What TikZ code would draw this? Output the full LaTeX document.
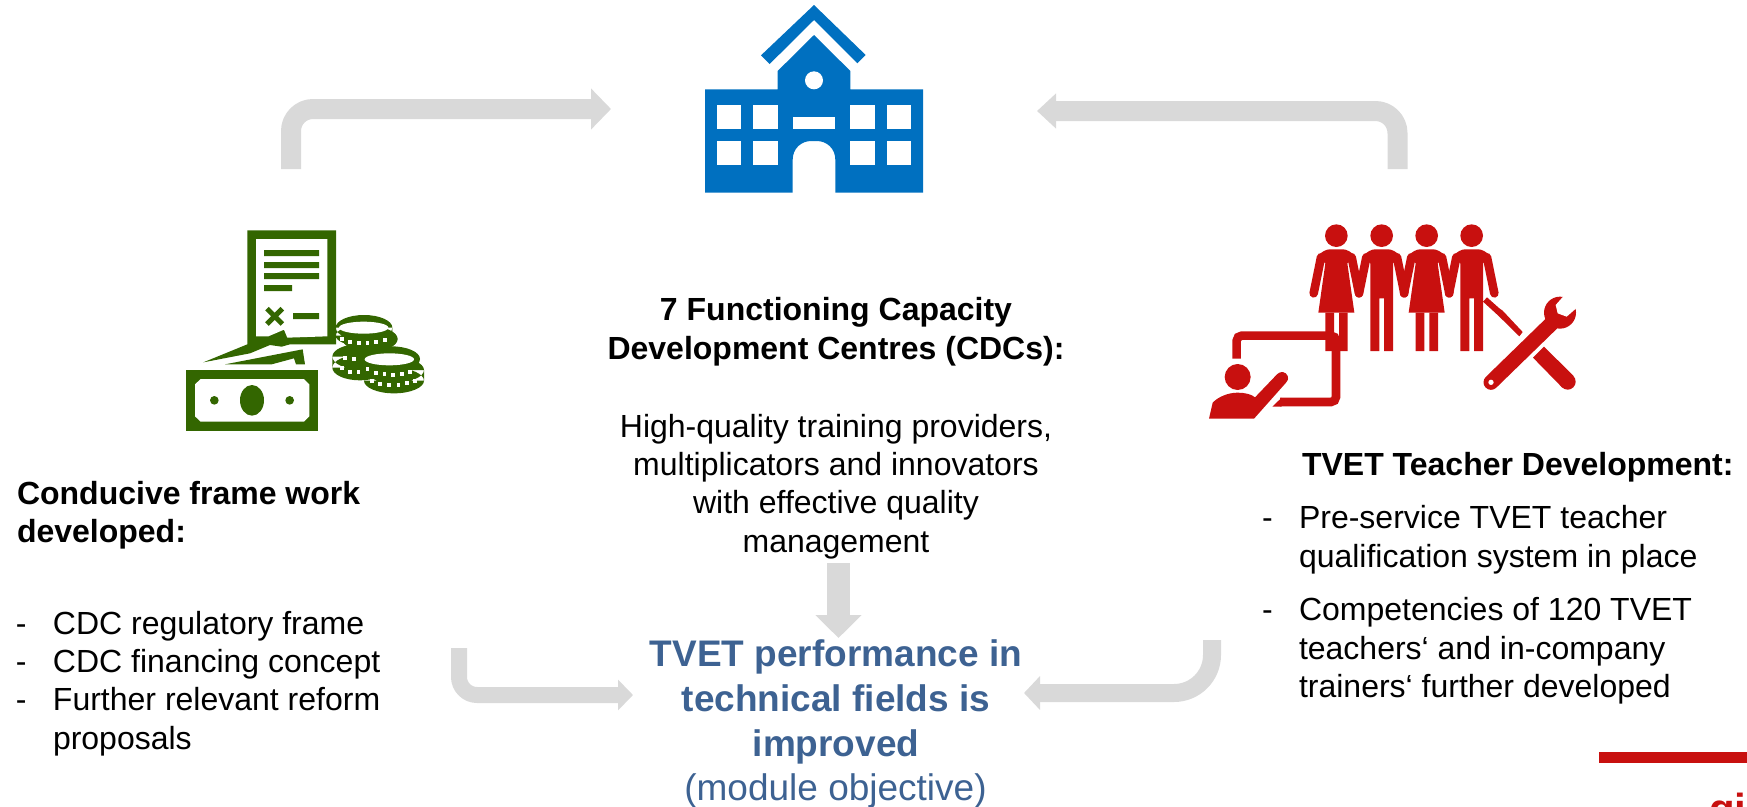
\documentclass[tikz,border=0pt]{standalone}
\usepackage{fontspec}
\setmainfont{Liberation Sans}
\usetikzlibrary{arrows.meta}
\definecolor{barGray}{HTML}{D9D9D9}
\definecolor{schoolBlue}{HTML}{0070C0}
\definecolor{moneyGreen}{HTML}{336600}
\definecolor{teachRed}{HTML}{C8100F}
\definecolor{goalBlue}{HTML}{3D6292}
\tikzset{
  flow/.style={draw=barGray,line width=#1,line cap=butt,line join=round},
  body/.style={inner sep=0pt,outer sep=0pt,font=\fontsize{32}{38.4}\selectfont,black},
  goal/.style={inner sep=0pt,outer sep=0pt,font=\fontsize{37}{45}\selectfont,goalBlue,align=center},
  icon/.style={x=0.33333pt,y=-0.33333pt}
}
\newcommand{\li}{\makebox[37pt][l]{-}}
\newcommand{\lc}{\hspace*{37pt}}
\begin{document}
\begin{tikzpicture}[x=1pt,y=-1pt]
\useasboundingbox (0,0) rectangle (1747,806);
% ---- school
\begin{scope}[shift={(680,0)},icon]
  \fill[schoolBlue] (402,15)--(557,165)--(532,190)--(402,60)--(269,192)--(243,166)--cycle;
  \fill[schoolBlue] (75,268)--(293,268)--(293,213)--(402,105)--(511,213)--(511,268)--(729,268)--(729,578)--(466,578)--(466,480)
    .. controls (466,445) and (440,423) .. (410,423) -- (394,423) .. controls (364,423) and (338,445) .. (338,480)--(338,578)--(75,578)--cycle;
  \foreach \wx in {111,220,511,620}{
    \fill[white] (\wx,314) rectangle (\wx+73,387);
    \fill[white] (\wx,423) rectangle (\wx+73,496);
  }
  \fill[white] (338,350) rectangle (466,387);
  \fill[white] (402,241) circle [radius=27];
\end{scope}
% ---- money
\begin{scope}[shift={(170,215)},icon]
  \fill[moneyGreen] (232,46)--(498,46)--(498,388)--(360,388)--(335,395)--(300,390)--(240,415)--(100,442)--(232,388)--cycle;
  \fill[white] (258,72)--(472,72)--(472,364)--(352,368)--(342,344)--(295,364)--(258,364)--cycle;
  \fill[moneyGreen] (282,105) rectangle (447,123) (282,141) rectangle (447,159) (282,174) rectangle (447,192) (282,210) rectangle (366,228) (369,294) rectangle (447,312);
  \draw[moneyGreen,line width=5pt] (291,281)--(337,327) (337,281)--(291,327);
  \fill[moneyGreen] (165,448)--(398,403)--(405,448)--(378,448)--(372,430)--(305,448)--cycle;
  \fill[moneyGreen] (47,466) rectangle (445,648);
  \fill[white] (75,508)--(92,492)--(402,492)--(418,508)--(418,604)--(402,620)--(92,620)--(75,604)--cycle;
  \fill[moneyGreen] (246,556) ellipse [x radius=36,y radius=46];
  \fill[moneyGreen] (133,556) circle [radius=13] (359,556) circle [radius=13];
  % left stack
  \fill[moneyGreen] (570,425) ellipse [x radius=83,y radius=38] (570,458) ellipse [x radius=83,y radius=38] (487,425) rectangle (653,458);
  \fill[moneyGreen] (600,372) ellipse [x radius=83,y radius=38];
  \fill[moneyGreen] (582,338) ellipse [x radius=85,y radius=38] (582,362) ellipse [x radius=85,y radius=32] (497,338) rectangle (667,362);
  \fill[white] (581,338) ellipse [x radius=74,y radius=18];
  \foreach \dx/\dy in {515/372,540/381,566/384,592/384,618/382,645/375,525/428,552/432,515/460,540/470,565/470}
    \fill[white] (\dx-5.5,\dy-6) rectangle (\dx+5.5,\dy+6);
  % right stack
  \fill[moneyGreen] (672,497) ellipse [x radius=90,y radius=38] (672,465) ellipse [x radius=90,y radius=38] (582,465) rectangle (762,497) (664,432) ellipse [x radius=86,y radius=38];
  \fill[white] (658,433) ellipse [x radius=74,y radius=18];
  \foreach \dx/\dy in {592/462,617/473,643/478,668/480,695/478,720/470,605/498,630/508,657/510,685/510,710/505,735/497}
    \fill[white] (\dx-5.5,\dy-6) rectangle (\dx+5.5,\dy+6);
\end{scope}
% ---- people, board and tools
\begin{scope}[shift={(1190,210)},icon]
  \foreach \c in {439,575,710,845}{
    \fill[teachRed] (\c,77) circle [radius=34];
    \draw[teachRed,line width=8.6pt,line cap=round] (\c-46,142)--(\c-68,250) (\c+46,142)--(\c+68,250);
  }
  \foreach \c in {439,710}{
    \fill[teachRed] (\c-54,308)--(\c-33,160)--(\c-58,140) .. controls (\c-45,125) and (\c-30,118) .. (\c-20,118)--(\c+20,118) .. controls (\c+30,118) and (\c+45,125) .. (\c+58,140)--(\c+33,160)--(\c+54,308)--cycle;
    \fill[teachRed] (\c-33,308) rectangle (\c-7,423) (\c+8,308) rectangle (\c+34,423);
  }
  \foreach \c in {575,845}{
    \fill[teachRed] (\c-34,423)--(\c-34,160)--(\c-58,140) .. controls (\c-45,125) and (\c-30,118) .. (\c-20,118)--(\c+20,118) .. controls (\c+30,118) and (\c+45,125) .. (\c+58,140)--(\c+34,160)--(\c+34,423)--(\c+7,423)--(\c+7,265)--(\c-7,265)--(\c-7,423)--cycle;
  }
  \draw[teachRed,line width=8.6pt,rounded corners=5pt] (140,446)--(140,377)--(438,377)--(438,576)--(270,576);
  \fill[teachRed] (275,563)--(247,590)--(275,590)--cycle;
  \fill[teachRed] (143,501) circle [radius=39];
  \fill[teachRed] (57,626)--(68,578) .. controls (85,560) and (115,548) .. (143,548) .. controls (165,548) and (185,553) .. (195,562)--(262,492) .. controls (272,482) and (288,485) .. (293,498) .. controls (296,508) and (292,514) .. (288,518)--(192,626)--cycle;
  % screwdriver
  \fill[teachRed] (879,275)--(891,262)--(928,295)--(938,302)--(998,366)--(988,379)--(926,318)--(913,306)--cycle;
  % wrench
  \fill[teachRed] (1029,443)--(1062,410)--(1150,497)--(1117,533)--cycle;
  \fill[teachRed] (1133,515) circle [radius=24];
  \draw[teachRed,line width=15pt,line cap=round] (1085,340)--(903,517);
  \fill[teachRed] (1110,308) circle [radius=48];
  \fill[white] (1128,250)--(1097,285)--(1103,310)--(1130,320)--(1170,285)--cycle;
  \fill[white] (903,517) circle [radius=8];
\end{scope}
% ---- corner mark
\fill[teachRed] (1599,752) rectangle (1747,763);
\begin{scope}
  \clip (0,0) rectangle (1747,806);
  \node[anchor=base west,inner sep=0pt,font=\fontsize{42}{42}\selectfont\bfseries,teachRed] (logo) at (1709,823) {gi};
\end{scope}
% ---- texts
\node[body,anchor=north west,align=left,font=\fontsize{32}{38.4}\selectfont\bfseries] (frameHead) at (17,481) {Conducive frame work\\developed:};
\node[body,anchor=north west,align=left] (frameList) at (16,611) {\li CDC regulatory frame\\\li CDC financing concept\\\li Further relevant reform\\\lc proposals};
\node[body,anchor=north,align=center,font=\fontsize{32}{38.4}\selectfont\bfseries] (cdcHead) at (836,297.5) {7 Functioning Capacity\\Development Centres (CDCs):};
\node[body,anchor=north,align=center] (cdcText) at (836,414) {High-quality training providers,\\multiplicators and innovators\\with effective quality\\management};
\node[goal,anchor=north,font=\fontsize{37}{45}\selectfont\bfseries] (objective) at (836,639.5) {TVET performance in\\technical fields is\\improved};
\node[goal,anchor=north] (objectiveNote) at (835.5,774) {(module objective)};
\node[body,anchor=north west,align=left,font=\fontsize{32}{38.4}\selectfont\bfseries] (teacherHead) at (1302,452) {TVET Teacher Development:};
\node[body,anchor=north west,align=left] (teacherList) at (1262,505.5) {\li Pre-service TVET teacher\\\lc qualification system in place\\[15.5pt]\li Competencies of 120 TVET\\\lc teachers‘ and in-company\\\lc trainers‘ further developed};
% ---- arrows
\coordinate (frameOut) at (291,169);
\coordinate (schoolL) at (611,109);
\coordinate (teacherOut) at (1397.5,169);
\coordinate (schoolR) at (1037,111);
\coordinate (cdcOut) at (838.5,563);
\coordinate (objTop) at (838.5,638);
\coordinate (frameDown) at (459,648);
\coordinate (objL) at (633,695);
\coordinate (teacherDown) at (1212,640);
\coordinate (objR) at (1024,693);
\draw[flow=20pt,-{Triangle[length=20pt,width=40pt,fill=barGray]},rounded corners=22pt] (frameOut) |- (schoolL);
\draw[flow=20pt,-{Triangle[length=19pt,width=34pt,fill=barGray]},rounded corners=22pt] (teacherOut) |- (schoolR);
\draw[flow=23pt,-{Triangle[length=23pt,width=45pt,fill=barGray]}] (cdcOut) -- (objTop);
\draw[flow=16pt,-{Triangle[length=15pt,width=30pt,fill=barGray]},rounded corners=18pt] (frameDown) |- (objL);
\draw[flow=18pt,-{Triangle[length=16pt,width=33pt,fill=barGray]},rounded corners=38pt] (teacherDown) |- (objR);
\end{tikzpicture}
\end{document}
